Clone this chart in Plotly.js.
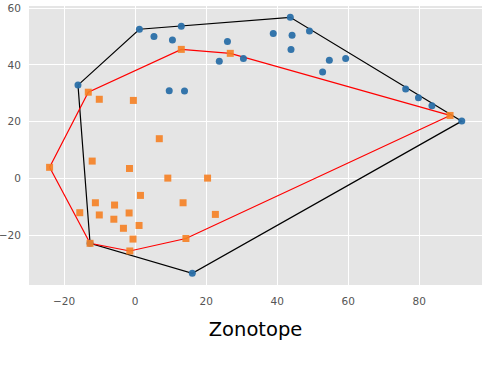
<!DOCTYPE html>
<html>
<head>
<meta charset="utf-8">
<script src="https://cdn.plot.ly/plotly-3.0.1.min.js"></script>
<style>
  html, body { margin: 0; padding: 0; background: #fff; }
  #chart { width: 492px; height: 374px; }
</style>
</head>
<body>
<div id="chart"></div>
<script>
// blue points (circles)
var blueX = [-16.1, 1.2, 5.3, 10.5, 13.0, 9.6, 13.9, 23.7, 26.0, 30.5, 43.7, 38.9, 44.2,
             49.1, 43.9, 54.7, 59.3, 52.8, 76.2, 79.8, 83.6, 92.0, 16.1, -12.7];
var blueY = [32.9, 52.6, 50.0, 48.8, 53.7, 30.9, 30.8, 41.3, 48.3, 42.3, 56.8, 51.1, 50.5,
             52.0, 45.5, 41.7, 42.3, 37.5, 31.5, 28.4, 25.6, 20.2, -33.5, -22.9];

// orange points (squares)
var orangeX = [-13.2, -10.1, -0.5, 13.0, 26.8, 6.8, -12.1, 88.7, -24.1, -1.6, 9.2, 20.4, 1.5,
               -11.2, -5.8, 13.5, -15.6, -10.1, -1.7, 22.6, -6.0, -3.3, 1.1, -0.6, 14.3, -12.7, -1.5];
var orangeY = [30.4, 27.9, 27.5, 45.5, 44.1, 14.0, 6.1, 22.2, 3.9, 3.5, 0.1, 0.1, -6.0,
               -8.6, -9.4, -8.6, -12.1, -12.9, -12.2, -12.7, -14.4, -17.6, -16.6, -21.4, -21.2, -22.9, -25.6];

// hull outlines (closed)
var blueHullX = [-16.1, 1.2, 43.7, 92.0, 16.1, -12.7, -16.1];
var blueHullY = [32.9, 52.6, 56.8, 20.2, -33.5, -22.9, 32.9];
var orangeHullX = [-24.1, -13.2, 13.0, 26.8, 88.7, 14.3, -1.5, -12.7, -24.1];
var orangeHullY = [3.9, 30.4, 45.5, 44.1, 22.2, -21.2, -25.6, -22.9, 3.9];

var xTicks = [-20, 0, 20, 40, 60, 80];
var yTicks = [-20, 0, 20, 40, 60];

var data = [
  { x: blueHullX, y: blueHullY, mode: 'lines', type: 'scatter',
    line: { color: '#000000', width: 1.2 }, hoverinfo: 'skip' },
  { x: orangeHullX, y: orangeHullY, mode: 'lines', type: 'scatter',
    line: { color: '#ff0000', width: 1.2 }, hoverinfo: 'skip' },
  { x: blueX, y: blueY, mode: 'markers', type: 'scatter',
    marker: { symbol: 'circle', size: 7, color: '#2a6fa8', opacity: 0.95 } },
  { x: orangeX, y: orangeY, mode: 'markers', type: 'scatter',
    marker: { symbol: 'square', size: 7, color: '#f57f22', opacity: 0.9 } }
];

var axisFont = { family: 'DejaVu Sans, sans-serif', size: 10.5, color: '#555555' };

var layout = {
  width: 492,
  height: 374,
  margin: { l: 29, r: 10, t: 6, b: 89 },
  paper_bgcolor: '#ffffff',
  plot_bgcolor: '#E5E5E5',
  showlegend: false,
  font: { family: 'DejaVu Sans, sans-serif' },
  xaxis: {
    range: [-29.9, 97.7],
    tickvals: xTicks,
    ticktext: xTicks.map(function(v) { return v < 0 ? '\u2212' + Math.abs(v) : String(v); }),
    showgrid: true, gridcolor: '#ffffff', gridwidth: 1,
    zeroline: false, showline: false,
    ticks: 'outside', ticklen: 6, tickcolor: 'rgba(0,0,0,0)',
    tickfont: axisFont,
    title: { text: 'Zonotope', font: { family: 'DejaVu Sans, sans-serif', size: 19.5, color: '#000000' }, standoff: 16 }
  },
  yaxis: {
    range: [-37.6, 60.8],
    tickvals: yTicks,
    ticktext: yTicks.map(function(v) { return v < 0 ? '\u2212' + Math.abs(v) : String(v); }),
    showgrid: true, gridcolor: '#ffffff', gridwidth: 1,
    zeroline: false, showline: false,
    ticks: 'outside', ticklen: 5, tickcolor: 'rgba(0,0,0,0)',
    tickfont: axisFont
  }
};

Plotly.newPlot('chart', data, layout, { staticPlot: true });
</script>
</body>
</html>
